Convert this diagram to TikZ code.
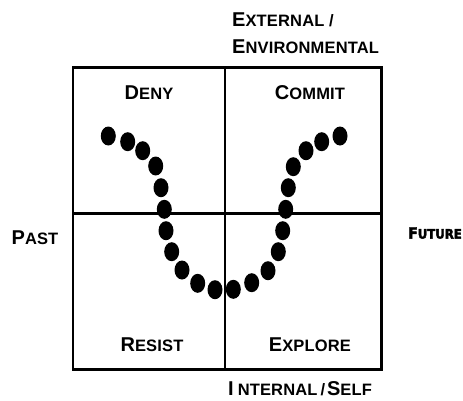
\documentclass[tikz,border=0pt]{standalone}
\usepackage{fontspec}
\setmainfont{Liberation Sans}[LetterSpace=1]
\newfontfamily\futfont{DejaVu Sans Condensed}[BoldFeatures={FakeBold=3}]
\usetikzlibrary{shapes.geometric}
\newcommand\myBigLetter[1]{{\fontsize{20}{21}\selectfont #1}}
\newcommand\mySmallLetters[1]{{\fontsize{16.5}{18}\selectfont #1}}
\newcommand\scw[2]{\bfseries\myBigLetter{#1}\mySmallLetters{#2}}
\tikzset{
  grid/.style={line width=2.8pt},
  dot/.style={ellipse, fill=black, inner sep=0pt, minimum width=15pt, minimum height=19pt},
  lbl/.style={inner sep=0pt, font=\bfseries},
}
\begin{document}
\begin{tikzpicture}[x=1pt,y=-1pt]
\useasboundingbox (0,0) rectangle (463,400);
% quadrant grid
\draw[grid] (73,67.5) rectangle (381.5,369.5);
\draw[grid] (225,67.5) -- (225,369.5);
\draw[grid] (73,213.3) -- (381.5,213.3);
% dots
\foreach \n/\x/\y in {
  1/108.3/136, 2/127.7/141.7, 3/142.7/150.7, 4/155.7/166, 5/161/187.7,
  6/164.3/209.3, 7/166/230.7, 8/171.7/251.7, 9/182/270, 10/197.7/283.3,
  11/215/289.7, 12/233.3/289.3, 13/251.7/282.7, 14/268/270.7, 15/278.3/251.7,
  16/282.7/230.7, 17/285.7/209.3, 18/288.3/187.7, 19/293.3/166.7, 20/306/150.7,
  21/321.7/141.7, 22/340/136}
  \node[dot] (d\n) at (\x,\y) {};
% quadrant labels
\node[lbl] (deny) at (149,93) {\scw{D}{ENY}};
\node[lbl] (commit) at (310,93) {\scw{C}{OMMIT}};
\node[lbl] (resist) at (152,345) {\scw{R}{ESIST}};
\node[lbl] (explore) at (310,345) {\scw{E}{XPLORE}};
% axis labels
\node[lbl, anchor=west] (ext) at (232,20) {\scw{E}{XTERNAL /}};
\node[lbl, anchor=west] (env) at (232,47) {\scw{E}{NVIRONMENTAL}};
\node[lbl, anchor=west] (int) at (228,389) {\bfseries\myBigLetter{I}\hspace{4pt}\mySmallLetters{NTERNAL}\hspace{3pt}\mySmallLetters{/}\hspace{2pt}\myBigLetter{S}\mySmallLetters{ELF}};
\node[lbl] (past) at (35,238) {\scw{P}{AST}};
\node[inner sep=0pt, anchor=east] (fut) at (462,233) {\futfont\bfseries{\fontsize{15.5}{16}\selectfont F}{\fontsize{13}{14}\selectfont UTURE}};
\end{tikzpicture}
\end{document}
